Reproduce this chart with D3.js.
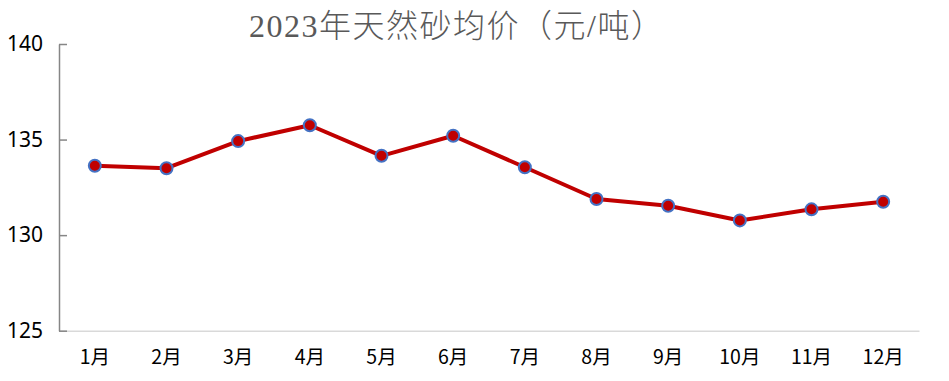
<!DOCTYPE html>
<html>
<head>
<meta charset="utf-8">
<script src="https://cdn.jsdelivr.net/npm/d3@7"></script>
<style>
  html, body { margin: 0; padding: 0; background: #fff; }
  svg { display: block; }
</style>
</head>
<body>
<svg id="chart" width="949" height="381"></svg>
<script>
const months = ["1月","2月","3月","4月","5月","6月","7月","8月","9月","10月","11月","12月"];
const prices = [133.63, 133.50, 134.92, 135.75, 134.15, 135.20, 133.55, 131.89, 131.54, 130.77, 131.35, 131.75];
const yTicks = [125, 130, 135, 140];
const titleText = "2023年天然砂均价（元/吨）";

const svg = d3.select("#chart");
const margin = {left: 59, right: 30, top: 44, bottom: 50};
const W = 949, H = 381;
const x0 = margin.left, x1 = W - margin.right;
const yTop = 44, yBot = 330.7;

const x = d3.scaleBand().domain(months).range([x0, x1]).padding(0);
const y = d3.scaleLinear().domain([125, 140]).range([yBot, yTop]);

// title
svg.append("text")
  .attr("x", 249).attr("y", 37)
  .attr("text-anchor", "start")
  .attr("fill", "#595959")
  .style("font-family", "'Liberation Serif', 'Noto Sans CJK SC', serif")
  .style("font-size", "32px")
  .style("font-weight", "300")
  .style("letter-spacing", "1.5px")
  .text(titleText);

// bottom axis
const xAxis = d3.axisBottom(x).tickSize(0).tickPadding(19);
const gx = svg.append("g").attr("transform", `translate(0,${yBot})`).call(xAxis);
gx.select(".domain").attr("stroke", "#d9d9d9").attr("stroke-width", 1.5);
gx.selectAll("text")
  .attr("fill", "#000")
  .style("font-family", "'Noto Sans CJK SC', 'Noto Sans', sans-serif")
  .style("font-size", "19.5px");

// left axis
const yAxis = d3.axisLeft(y).tickValues(yTicks).tickSizeInner(-8).tickSizeOuter(0).tickPadding(16).tickFormat(d3.format("d"));
const gy = svg.append("g").attr("transform", `translate(${x0},0)`).call(yAxis);
gy.select(".domain").attr("stroke", "#868686").attr("stroke-width", 1.5);
gy.selectAll(".tick line").attr("stroke", "#868686").attr("stroke-width", 1.5);
gy.selectAll("text")
  .attr("fill", "#000")
  .style("font-family", "'Noto Sans', sans-serif")
  .style("font-size", "21px");

// line
const data = months.map((m, i) => ({m, v: prices[i]}));
const line = d3.line().x(d => x(d.m) + x.bandwidth() / 2).y(d => y(d.v));
svg.append("path")
  .datum(data)
  .attr("d", line)
  .attr("fill", "none")
  .attr("stroke", "#C00000")
  .attr("stroke-width", 4)
  .attr("stroke-linejoin", "round");

svg.selectAll("circle.pt")
  .data(data)
  .join("circle")
  .attr("class", "pt")
  .attr("cx", d => x(d.m) + x.bandwidth() / 2)
  .attr("cy", d => y(d.v))
  .attr("r", 6)
  .attr("fill", "#C00000")
  .attr("stroke", "#4472C4")
  .attr("stroke-width", 2);
</script>
</body>
</html>
